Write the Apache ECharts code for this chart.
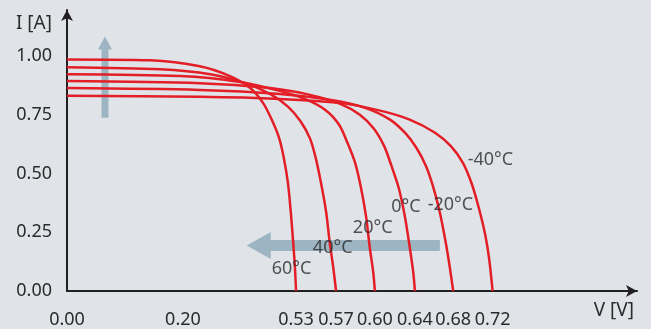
<!DOCTYPE html>
<html>
<head>
<meta charset="utf-8">
<script src="https://cdn.jsdelivr.net/npm/echarts@6/dist/echarts.min.js"></script>
<style>
html,body{margin:0;padding:0;background:#e0e4e8;}
#chart{width:651px;height:329px;}
</style>
</head>
<body>
<div id="chart"></div>
<script>
// Schematic x positions of tick labels (axis units) and their texts
const xTickPos = [0, 0.2, 0.395, 0.464, 0.531, 0.600, 0.666, 0.734];
const xTickLabels = ['0.00', '0.20', '0.53', '0.57', '0.60', '0.64', '0.68', '0.72'];
const yTickPos = [0, 0.25, 0.5, 0.75, 1.0];
const yTickLabels = ['0.00', '0.25', '0.50', '0.75', '1.00'];

// I-V curves per temperature
const temps = ['60°C', '40°C', '20°C', '0°C', '-20°C', '-40°C'];
const curve60 = [[0,0.985],[0.143,0.981],[0.229,0.956],[0.281,0.914],[0.316,0.863],[0.338,0.800],[0.353,0.729],[0.366,0.649],[0.374,0.565],[0.381,0.460],[0.386,0.334],[0.390,0.208],[0.393,0.103],[0.395,0]];
const curve40 = [[0,0.952],[0.160,0.943],[0.247,0.922],[0.307,0.884],[0.350,0.838],[0.381,0.784],[0.403,0.721],[0.419,0.649],[0.429,0.565],[0.438,0.460],[0.447,0.334],[0.453,0.208],[0.459,0.103],[0.464,0]];
const curve20 = [[0,0.922],[0.195,0.914],[0.298,0.889],[0.367,0.851],[0.410,0.817],[0.445,0.771],[0.469,0.708],[0.484,0.628],[0.497,0.544],[0.507,0.439],[0.516,0.313],[0.522,0.187],[0.528,0.082],[0.531,0]];
const curve0 = [[0,0.893],[0.229,0.884],[0.350,0.863],[0.419,0.834],[0.471,0.796],[0.505,0.750],[0.529,0.691],[0.547,0.616],[0.559,0.536],[0.572,0.439],[0.583,0.313],[0.591,0.187],[0.597,0.082],[0.600,0]];
const curveM20 = [[0,0.863],[0.229,0.855],[0.367,0.838],[0.453,0.813],[0.514,0.779],[0.557,0.729],[0.584,0.670],[0.603,0.607],[0.619,0.532],[0.631,0.447],[0.643,0.334],[0.653,0.208],[0.660,0.103],[0.666,0]];
const curveM40 = [[0,0.830],[0.229,0.826],[0.367,0.817],[0.471,0.800],[0.540,0.767],[0.591,0.729],[0.634,0.674],[0.662,0.616],[0.683,0.544],[0.698,0.456],[0.710,0.355],[0.721,0.242],[0.728,0.137],[0.734,0]];
const curves = [curve60, curve40, curve20, curve0, curveM20, curveM40];

// Temperature label anchor points (left edge, middle)
const labelX = [0.353, 0.424, 0.493, 0.559, 0.622, 0.691];
const labelY = [0.103, 0.191, 0.279, 0.368, 0.376, 0.565];

// Trend arrows: [x1, y1, x2, y2]
const arrows = [[0.0655, 0.737, 0.0655, 1.082], [0.643, 0.193, 0.310, 0.193]];
const arrowDims = [[3.5, 7, 13], [5.5, 13.5, 24]];

const FONT = 'Noto Sans';
const TXT = '#2b2b2b';
const chart = echarts.init(document.getElementById('chart'));

const series = [];
series.push({
  type: 'custom',
  z: 1,
  silent: true,
  data: arrows.map((a, i) => a.concat([i])),
  renderItem: function (params, api) {
    const p1 = api.coord([api.value(0), api.value(1)]);
    const p2 = api.coord([api.value(2), api.value(3)]);
    const d = arrowDims[api.value(4)];
    const dx = p2[0] - p1[0], dy = p2[1] - p1[1];
    const len = Math.sqrt(dx * dx + dy * dy);
    const ux = dx / len, uy = dy / len;
    const nx = -uy, ny = ux;
    const bx = p2[0] - ux * d[2], by = p2[1] - uy * d[2];
    const pts = [
      [p1[0] + nx * d[0], p1[1] + ny * d[0]],
      [bx + nx * d[0], by + ny * d[0]],
      [bx + nx * d[1], by + ny * d[1]],
      [p2[0], p2[1]],
      [bx - nx * d[1], by - ny * d[1]],
      [bx - nx * d[0], by - ny * d[0]],
      [p1[0] - nx * d[0], p1[1] - ny * d[0]]
    ];
    return { type: 'polygon', shape: { points: pts }, style: { fill: '#9db4c2' } };
  }
});
curves.forEach((c, i) => {
  series.push({
    type: 'line',
    name: temps[i],
    data: c,
    z: 3,
    smooth: 0.3,
    showSymbol: false,
    lineStyle: { color: '#e31e26', width: 2.5 },
    silent: true
  });
});
series.push({
  type: 'scatter',
  z: 5,
  symbolSize: 0,
  silent: true,
  data: temps.map((t, i) => ({ value: [labelX[i], labelY[i]], name: t })),
  label: {
    show: true,
    position: 'right',
    distance: 0,
    offset: [0, 2],
    formatter: p => p.name,
    fontFamily: FONT,
    fontSize: 18,
    color: TXT
  }
});

chart.setOption({
  backgroundColor: '#e0e4e8',
  animation: false,
  grid: { left: 67, right: 14, top: 10, bottom: 34.5 },
  xAxis: {
    type: 'value',
    min: 0,
    max: 0.983,
    name: 'V [V]',
    nameLocation: 'end',
    nameGap: -3,
    nameTextStyle: { align: 'right', verticalAlign: 'top', padding: [10, 0, 0, 0], fontFamily: FONT, fontSize: 19, color: TXT },
    axisLine: { show: true, symbol: ['none', 'arrow'], symbolSize: [9, 11], lineStyle: { color: '#231f20', width: 2 } },
    axisTick: { show: false },
    splitLine: { show: false },
    axisLabel: {
      customValues: xTickPos,
      formatter: v => xTickLabels[xTickPos.indexOf(v)],
      margin: 20,
      fontFamily: FONT,
      fontSize: 18,
      color: TXT
    }
  },
  yAxis: {
    type: 'value',
    min: 0,
    max: 1.195,
    name: 'I [A]',
    nameLocation: 'end',
    nameGap: -14,
    nameTextStyle: { align: 'right', verticalAlign: 'middle', padding: [0, 15, 0, 0], fontFamily: FONT, fontSize: 19, color: TXT },
    axisLine: { show: true, symbol: ['none', 'arrow'], symbolSize: [9, 11], lineStyle: { color: '#231f20', width: 2 } },
    axisTick: { show: false },
    splitLine: { show: false },
    axisLabel: {
      customValues: yTickPos,
      formatter: v => yTickLabels[yTickPos.indexOf(v)],
      margin: 15,
      fontFamily: FONT,
      fontSize: 18,
      color: TXT
    }
  },
  series: series
});
</script>
</body>
</html>
